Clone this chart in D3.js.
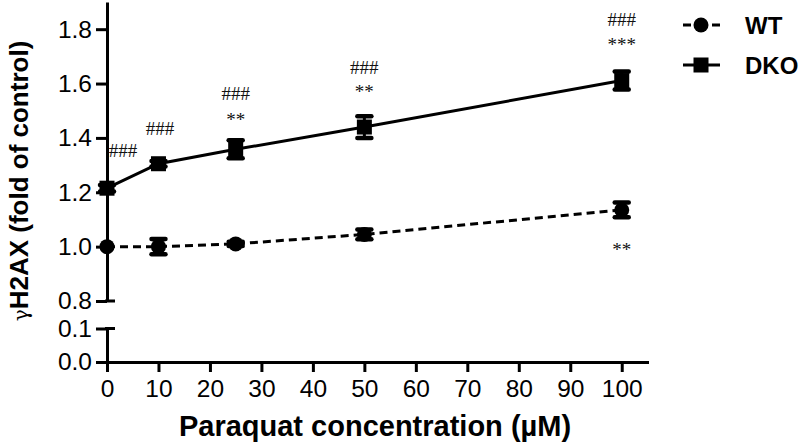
<!DOCTYPE html>
<html><head><meta charset="utf-8">
<script src="https://cdn.jsdelivr.net/npm/d3@7"></script>
<style>
html,body{margin:0;padding:0;background:#fff;}
svg{display:block;font-family:"Liberation Sans",Arial,sans-serif;}
</style></head>
<body><svg id="chart" width="800" height="448"></svg>
<script>
// ---- data ----
const concentrations = [0, 10, 25, 50, 100];
const wtMean  = [1.00, 1.00, 1.01, 1.045, 1.135];
const wtErr   = [0.00, 0.028, 0.008, 0.018, 0.027];
const dkoMean = [1.215, 1.305, 1.358, 1.44, 1.611];
const dkoErr  = [0.012, 0.01, 0.033, 0.04, 0.033];
const xTicks = [0,10,20,30,40,50,60,70,80,90,100];
const yTicksUpper = [0.8,1.0,1.2,1.4,1.6,1.8];
const yTicksLower = [0.0,0.1];
const seriesNames = ["WT","DKO"];
// annotations: [x (µM), y (fold), text]
const annX = [3.1, 10.3, 25, 25, 50, 50, 100, 100, 100];
const annY = [1.352, 1.433, 1.561, 1.481, 1.656, 1.583, 1.834, 1.758, 1.004];
const annText = ["###","###","###","**","###","**","###","***","**"];

const svg = d3.select("#chart");
const x = d3.scaleLinear().domain([0,105.2]).range([107,648.5]);
const yTop = d3.scaleLinear().domain([0.8,1.9]).range([301,2]);
const yBot = d3.scaleLinear().domain([0,0.1]).range([362,328.5]);

const axisStroke = 3;
function styleAxis(g){
  g.selectAll("path.domain").attr("stroke","#000").attr("stroke-width",axisStroke);
  g.selectAll(".tick line").attr("stroke","#000").attr("stroke-width",axisStroke);
  g.selectAll(".tick text").attr("fill","#000").attr("font-size",24.5)
    .attr("font-family","'Liberation Sans',Arial,sans-serif");
}
// upper y axis
const gyTop = svg.append("g").attr("transform","translate(107,0)")
  .call(d3.axisLeft(yTop).tickValues(yTicksUpper).tickSize(11).tickSizeOuter(0).tickPadding(4).tickFormat(d3.format(".1f")));
styleAxis(gyTop);
// lower y axis
const gyBot = svg.append("g").attr("transform","translate(107,0)")
  .call(d3.axisLeft(yBot).tickValues(yTicksLower).tickSize(11).tickSizeOuter(0).tickPadding(4).tickFormat(d3.format(".1f")));
styleAxis(gyBot);
// break caps
[yTop(0.8), yBot(0.1)].forEach(yy=>{
  svg.append("line").attr("x1",105).attr("x2",115).attr("y1",yy).attr("y2",yy)
    .attr("stroke","#000").attr("stroke-width",axisStroke);
});
// x axis
const gx = svg.append("g").attr("transform",`translate(0,${yBot(0)})`)
  .call(d3.axisBottom(x).tickValues(xTicks).tickSize(10).tickSizeOuter(0).tickPadding(8));
styleAxis(gx);

// axis titles
svg.append("text").attr("x",375).attr("y",436).attr("text-anchor","middle")
  .attr("font-size",29).attr("font-weight","bold").text("Paraquat concentration (µM)");
const yt = svg.append("text").attr("transform","translate(28,181) rotate(-90)")
  .attr("text-anchor","middle").attr("font-size",26).attr("font-weight","bold");
yt.append("tspan").attr("font-weight","normal").attr("font-size",20).attr("font-family","'DejaVu Serif',serif").text("γ");
yt.append("tspan").text("H2AX (fold of control)");

// lines
const wtData = concentrations.map((c,i)=>({c, m:wtMean[i], e:wtErr[i]}));
const dkoData = concentrations.map((c,i)=>({c, m:dkoMean[i], e:dkoErr[i]}));
const line = d3.line().x(d=>x(d.c)).y(d=>yTop(d.m));
svg.append("path").datum(wtData).attr("d",line).attr("fill","none")
  .attr("stroke","#000").attr("stroke-width",3).attr("stroke-dasharray","8,5");
svg.append("path").datum(dkoData).attr("d",line).attr("fill","none")
  .attr("stroke","#000").attr("stroke-width",3);

// error bars
function errBars(data){
  const g = svg.append("g");
  data.forEach(d=>{
    if(d.e<=0) return;
    const xx = x(d.c), y1 = yTop(d.m-d.e), y2 = yTop(d.m+d.e);
    g.append("line").attr("x1",xx).attr("x2",xx).attr("y1",y1).attr("y2",y2).attr("stroke","#000").attr("stroke-width",3);
    [y1,y2].forEach(yy=>g.append("line").attr("x1",xx-7).attr("x2",xx+7).attr("y1",yy).attr("y2",yy)
      .attr("stroke","#000").attr("stroke-width",4.5).attr("stroke-linecap","round"));
  });
}
errBars(wtData); errBars(dkoData);

// markers
svg.append("g").selectAll("circle").data(wtData).join("circle")
  .attr("cx",d=>x(d.c)).attr("cy",d=>yTop(d.m)).attr("r",7.5).attr("fill","#000");
svg.append("g").selectAll("rect").data(dkoData).join("rect")
  .attr("x",d=>x(d.c)-7.5).attr("y",d=>yTop(d.m)-7.5).attr("width",15).attr("height",15).attr("fill","#000");

// annotations
svg.append("g").selectAll("text").data(annText.map((t,i)=>({t,x:annX[i],y:annY[i]}))).join("text")
  .attr("x",d=>x(d.x)).attr("y",d=>yTop(d.y) + (d.t[0]==="#" ? 6 : 10))
  .attr("text-anchor","middle").attr("font-family","'Liberation Serif','Times New Roman',serif")
  .attr("font-size",19).attr("fill","#111").text(d=>d.t);

// legend
const lg = svg.append("g");
const legY = [25,65];
lg.append("line").attr("x1",683).attr("x2",720).attr("y1",legY[0]).attr("y2",legY[0])
  .attr("stroke","#000").attr("stroke-width",3).attr("stroke-dasharray","8,21,8");
lg.append("circle").attr("cx",701).attr("cy",legY[0]).attr("r",7.5).attr("fill","#000");
lg.append("line").attr("x1",683).attr("x2",720).attr("y1",legY[1]).attr("y2",legY[1])
  .attr("stroke","#000").attr("stroke-width",3);
lg.append("rect").attr("x",693.5).attr("y",legY[1]-7.5).attr("width",15).attr("height",15).attr("fill","#000");
lg.selectAll("text.leg").data(seriesNames).join("text").attr("class","leg")
  .attr("x",745).attr("y",(d,i)=>legY[i]+8.5).attr("font-size",24).attr("font-weight","bold").text(d=>d);
</script></body></html>
